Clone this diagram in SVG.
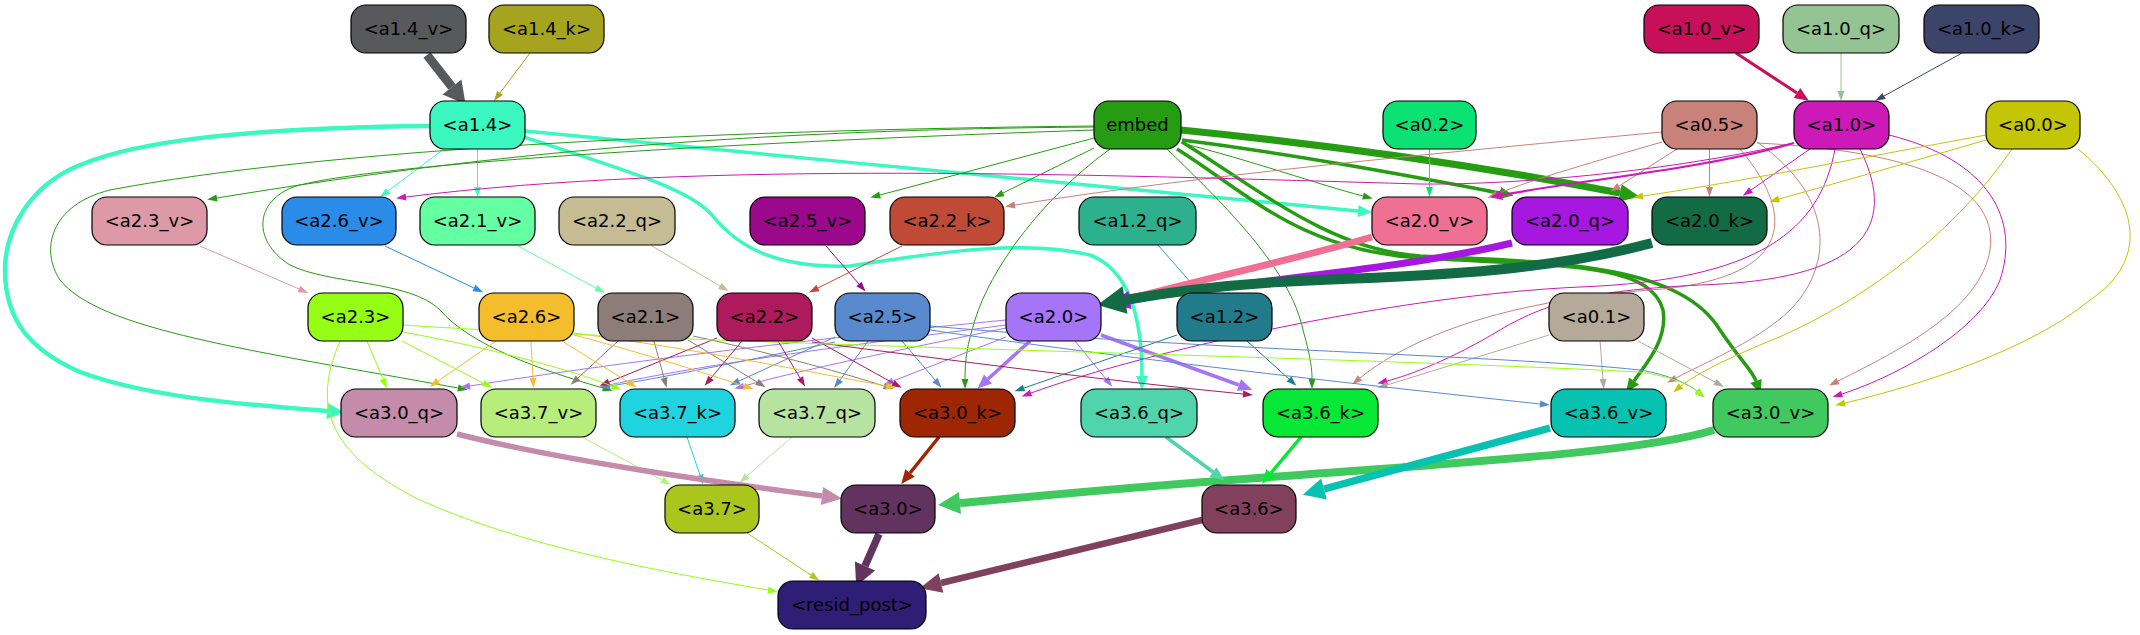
<svg xmlns="http://www.w3.org/2000/svg" width="2140" height="635" viewBox="0 0 2140 635">
<style>
.node rect{stroke:#000;stroke-width:1.2}
.node text{font-family:"DejaVu Sans","Liberation Sans",sans-serif;font-size:18px;text-anchor:middle;fill:#000}
.e{fill:none}
marker{overflow:visible}
</style>
<defs>
<marker id="t-a6a41f" markerUnits="userSpaceOnUse" orient="auto" markerWidth="1" markerHeight="1"><path d="M0,-3.5L10,0L0,3.5z" fill="#a6a41f"/></marker>
<marker id="t-94c493" markerUnits="userSpaceOnUse" orient="auto" markerWidth="1" markerHeight="1"><path d="M0,-3.5L10,0L0,3.5z" fill="#94c493"/></marker>
<marker id="t-3d446a" markerUnits="userSpaceOnUse" orient="auto" markerWidth="1" markerHeight="1"><path d="M0,-3.5L10,0L0,3.5z" fill="#3d446a"/></marker>
<marker id="t-3af8c0" markerUnits="userSpaceOnUse" orient="auto" markerWidth="1" markerHeight="1"><path d="M0,-3.5L10,0L0,3.5z" fill="#3af8c0"/></marker>
<marker id="t-269c12" markerUnits="userSpaceOnUse" orient="auto" markerWidth="1" markerHeight="1"><path d="M0,-3.5L10,0L0,3.5z" fill="#269c12"/></marker>
<marker id="t-0ce274" markerUnits="userSpaceOnUse" orient="auto" markerWidth="1" markerHeight="1"><path d="M0,-3.5L10,0L0,3.5z" fill="#0ce274"/></marker>
<marker id="t-c9827a" markerUnits="userSpaceOnUse" orient="auto" markerWidth="1" markerHeight="1"><path d="M0,-3.5L10,0L0,3.5z" fill="#c9827a"/></marker>
<marker id="t-cc19b7" markerUnits="userSpaceOnUse" orient="auto" markerWidth="1" markerHeight="1"><path d="M0,-3.5L10,0L0,3.5z" fill="#cc19b7"/></marker>
<marker id="t-c4c505" markerUnits="userSpaceOnUse" orient="auto" markerWidth="1" markerHeight="1"><path d="M0,-3.5L10,0L0,3.5z" fill="#c4c505"/></marker>
<marker id="t-b5aa99" markerUnits="userSpaceOnUse" orient="auto" markerWidth="1" markerHeight="1"><path d="M0,-3.5L10,0L0,3.5z" fill="#b5aa99"/></marker>
<marker id="t-dd9aa6" markerUnits="userSpaceOnUse" orient="auto" markerWidth="1" markerHeight="1"><path d="M0,-3.5L10,0L0,3.5z" fill="#dd9aa6"/></marker>
<marker id="t-2a8ce8" markerUnits="userSpaceOnUse" orient="auto" markerWidth="1" markerHeight="1"><path d="M0,-3.5L10,0L0,3.5z" fill="#2a8ce8"/></marker>
<marker id="t-64fea3" markerUnits="userSpaceOnUse" orient="auto" markerWidth="1" markerHeight="1"><path d="M0,-3.5L10,0L0,3.5z" fill="#64fea3"/></marker>
<marker id="t-c6bc93" markerUnits="userSpaceOnUse" orient="auto" markerWidth="1" markerHeight="1"><path d="M0,-3.5L10,0L0,3.5z" fill="#c6bc93"/></marker>
<marker id="t-bf4b37" markerUnits="userSpaceOnUse" orient="auto" markerWidth="1" markerHeight="1"><path d="M0,-3.5L10,0L0,3.5z" fill="#bf4b37"/></marker>
<marker id="t-9b088c" markerUnits="userSpaceOnUse" orient="auto" markerWidth="1" markerHeight="1"><path d="M0,-3.5L10,0L0,3.5z" fill="#9b088c"/></marker>
<marker id="t-2cb08e" markerUnits="userSpaceOnUse" orient="auto" markerWidth="1" markerHeight="1"><path d="M0,-3.5L10,0L0,3.5z" fill="#2cb08e"/></marker>
<marker id="t-a574f7" markerUnits="userSpaceOnUse" orient="auto" markerWidth="1" markerHeight="1"><path d="M0,-3.5L10,0L0,3.5z" fill="#a574f7"/></marker>
<marker id="t-217b8a" markerUnits="userSpaceOnUse" orient="auto" markerWidth="1" markerHeight="1"><path d="M0,-3.5L10,0L0,3.5z" fill="#217b8a"/></marker>
<marker id="t-598acd" markerUnits="userSpaceOnUse" orient="auto" markerWidth="1" markerHeight="1"><path d="M0,-3.5L10,0L0,3.5z" fill="#598acd"/></marker>
<marker id="t-ad1b5c" markerUnits="userSpaceOnUse" orient="auto" markerWidth="1" markerHeight="1"><path d="M0,-3.5L10,0L0,3.5z" fill="#ad1b5c"/></marker>
<marker id="t-8c7d78" markerUnits="userSpaceOnUse" orient="auto" markerWidth="1" markerHeight="1"><path d="M0,-3.5L10,0L0,3.5z" fill="#8c7d78"/></marker>
<marker id="t-f3bd2c" markerUnits="userSpaceOnUse" orient="auto" markerWidth="1" markerHeight="1"><path d="M0,-3.5L10,0L0,3.5z" fill="#f3bd2c"/></marker>
<marker id="t-95fe14" markerUnits="userSpaceOnUse" orient="auto" markerWidth="1" markerHeight="1"><path d="M0,-3.5L10,0L0,3.5z" fill="#95fe14"/></marker>
<marker id="t-b6ed7b" markerUnits="userSpaceOnUse" orient="auto" markerWidth="1" markerHeight="1"><path d="M0,-3.5L10,0L0,3.5z" fill="#b6ed7b"/></marker>
<marker id="t-1fd3df" markerUnits="userSpaceOnUse" orient="auto" markerWidth="1" markerHeight="1"><path d="M0,-3.5L10,0L0,3.5z" fill="#1fd3df"/></marker>
<marker id="t-b7e3a1" markerUnits="userSpaceOnUse" orient="auto" markerWidth="1" markerHeight="1"><path d="M0,-3.5L10,0L0,3.5z" fill="#b7e3a1"/></marker>
<marker id="t-aac61d" markerUnits="userSpaceOnUse" orient="auto" markerWidth="1" markerHeight="1"><path d="M0,-3.5L10,0L0,3.5z" fill="#aac61d"/></marker>
<marker id="m-c80f59" markerUnits="userSpaceOnUse" orient="auto" markerWidth="1" markerHeight="1"><path d="M0,-6L14,0L0,6z" fill="#c80f59"/></marker>
<marker id="m-3af8c0" markerUnits="userSpaceOnUse" orient="auto" markerWidth="1" markerHeight="1"><path d="M0,-6L14,0L0,6z" fill="#3af8c0"/></marker>
<marker id="m-269c12" markerUnits="userSpaceOnUse" orient="auto" markerWidth="1" markerHeight="1"><path d="M0,-6L14,0L0,6z" fill="#269c12"/></marker>
<marker id="m-a574f7" markerUnits="userSpaceOnUse" orient="auto" markerWidth="1" markerHeight="1"><path d="M0,-6L14,0L0,6z" fill="#a574f7"/></marker>
<marker id="m-9f2602" markerUnits="userSpaceOnUse" orient="auto" markerWidth="1" markerHeight="1"><path d="M0,-6L14,0L0,6z" fill="#9f2602"/></marker>
<marker id="m-4fd4ab" markerUnits="userSpaceOnUse" orient="auto" markerWidth="1" markerHeight="1"><path d="M0,-6L14,0L0,6z" fill="#4fd4ab"/></marker>
<marker id="m-06e835" markerUnits="userSpaceOnUse" orient="auto" markerWidth="1" markerHeight="1"><path d="M0,-6L14,0L0,6z" fill="#06e835"/></marker>
<marker id="m-cc19b7" markerUnits="userSpaceOnUse" orient="auto" markerWidth="1" markerHeight="1"><path d="M0,-5L12,0L0,5z" fill="#cc19b7"/></marker>
<marker id="l-3af8c0" markerUnits="userSpaceOnUse" orient="auto" markerWidth="1" markerHeight="1"><path d="M0,-8L18,0L0,8z" fill="#3af8c0"/></marker>
<marker id="l-269c12" markerUnits="userSpaceOnUse" orient="auto" markerWidth="1" markerHeight="1"><path d="M0,-9L20,0L0,9z" fill="#269c12"/></marker>
<marker id="l-f07094" markerUnits="userSpaceOnUse" orient="auto" markerWidth="1" markerHeight="1"><path d="M0,-9L20,0L0,9z" fill="#f07094"/></marker>
<marker id="l-a617df" markerUnits="userSpaceOnUse" orient="auto" markerWidth="1" markerHeight="1"><path d="M0,-9L20,0L0,9z" fill="#a617df"/></marker>
<marker id="l-c48bab" markerUnits="userSpaceOnUse" orient="auto" markerWidth="1" markerHeight="1"><path d="M0,-9L20,0L0,9z" fill="#c48bab"/></marker>
<marker id="x-58595b" markerUnits="userSpaceOnUse" orient="auto" markerWidth="1" markerHeight="1"><path d="M0,-12L22,0L0,12z" fill="#58595b"/></marker>
<marker id="x-40c95e" markerUnits="userSpaceOnUse" orient="auto" markerWidth="1" markerHeight="1"><path d="M0,-11L22,0L0,11z" fill="#40c95e"/></marker>
<marker id="x-07c1b1" markerUnits="userSpaceOnUse" orient="auto" markerWidth="1" markerHeight="1"><path d="M0,-11L22,0L0,11z" fill="#07c1b1"/></marker>
<marker id="x-61335e" markerUnits="userSpaceOnUse" orient="auto" markerWidth="1" markerHeight="1"><path d="M0,-11L22,0L0,11z" fill="#61335e"/></marker>
<marker id="x-81415d" markerUnits="userSpaceOnUse" orient="auto" markerWidth="1" markerHeight="1"><path d="M0,-10L22,0L0,10z" fill="#81415d"/></marker>
<marker id="x-126b45" markerUnits="userSpaceOnUse" orient="auto" markerWidth="1" markerHeight="1"><path d="M0,-14L28,0L0,14z" fill="#126b45"/></marker>
</defs>
<rect width="2140" height="635" fill="#fff"/>
<g id="connectors">
<path class="e" d="M427,55 L452,87" stroke="#58595b" stroke-width="9" marker-end="url(#x-58595b)"/>
<path class="e" d="M530,53 L500,93" stroke="#a6a41f" stroke-width="1" marker-end="url(#t-a6a41f)"/>
<path class="e" d="M1736,53 L1797,93" stroke="#c80f59" stroke-width="3" marker-end="url(#m-c80f59)"/>
<path class="e" d="M1841,53 L1841,91" stroke="#94c493" stroke-width="1" marker-end="url(#t-94c493)"/>
<path class="e" d="M1962,53 L1884,96" stroke="#3d446a" stroke-width="1" marker-end="url(#t-3d446a)"/>
<path class="e" d="M444,149 L388,191" stroke="#3af8c0" stroke-width="1" marker-end="url(#t-3af8c0)"/>
<path class="e" d="M477.5,149 L477.5,187" stroke="#3af8c0" stroke-width="1" marker-end="url(#t-3af8c0)"/>
<path class="e" d="M430,126 C250,128 140,140 80,165 C30,185 5,230 5,270 C5,320 30,350 80,372 C150,398 250,405 327,411" stroke="#3af8c0" stroke-width="4.5" marker-end="url(#l-3af8c0)"/>
<path class="e" d="M525,131 C800,158 1100,186 1358,211" stroke="#3af8c0" stroke-width="3.5" marker-end="url(#m-3af8c0)"/>
<path class="e" d="M524,137 C640,175 690,190 712,215 C740,250 780,268 850,266 C950,250 1030,240 1090,255 C1130,270 1142,320 1142,376" stroke="#3af8c0" stroke-width="3.5" marker-end="url(#m-3af8c0)"/>
<path class="e" d="M1094,127 C700,130 450,160 217,198" stroke="#269c12" stroke-width="1" marker-end="url(#t-269c12)"/>
<path class="e" d="M1094,126 C700,130 320,150 110,190 C50,205 40,250 60,280 C100,330 250,350 458,388" stroke="#269c12" stroke-width="1" marker-end="url(#t-269c12)"/>
<path class="e" d="M1094,130 C800,140 400,160 300,185 C255,197 250,240 290,265 C330,285 410,280 440,310 C470,345 540,370 603,388" stroke="#269c12" stroke-width="1" marker-end="url(#t-269c12)"/>
<path class="e" d="M1094,138 L880,195" stroke="#269c12" stroke-width="1" marker-end="url(#t-269c12)"/>
<path class="e" d="M1094,148 L1003,193" stroke="#269c12" stroke-width="1" marker-end="url(#t-269c12)"/>
<path class="e" d="M1110,149 C1040,200 990,270 975,320 C967,345 965,360 965,379" stroke="#269c12" stroke-width="1" marker-end="url(#t-269c12)"/>
<path class="e" d="M1167,149 C1230,210 1290,270 1303,330 C1310,355 1312,368 1312,379" stroke="#269c12" stroke-width="1" marker-end="url(#t-269c12)"/>
<path class="e" d="M1181,143 C1250,160 1320,185 1363,196" stroke="#269c12" stroke-width="1" marker-end="url(#t-269c12)"/>
<path class="e" d="M1182,140 C1300,155 1420,178 1500,193" stroke="#269c12" stroke-width="3.5" marker-end="url(#m-269c12)"/>
<path class="e" d="M1177,149 C1250,195 1300,250 1420,258 C1560,266 1650,262 1663,310 C1668,340 1645,365 1634,381" stroke="#269c12" stroke-width="3.5" marker-end="url(#m-269c12)"/>
<path class="e" d="M1182,142 C1260,190 1330,250 1420,256 C1560,262 1680,265 1720,330 C1740,360 1752,370 1756,381" stroke="#269c12" stroke-width="3.5" marker-end="url(#m-269c12)"/>
<path class="e" d="M1181,130 C1300,142 1450,160 1620,193" stroke="#269c12" stroke-width="7" marker-end="url(#l-269c12)"/>
<path class="e" d="M1429.5,149 L1429.5,187" stroke="#0ce274" stroke-width="1" marker-end="url(#t-0ce274)"/>
<path class="e" d="M1662,132 C1450,152 1200,175 1015,205" stroke="#c9827a" stroke-width="1" marker-end="url(#t-c9827a)"/>
<path class="e" d="M1662,142 C1600,160 1530,180 1497,194" stroke="#c9827a" stroke-width="1" marker-end="url(#t-c9827a)"/>
<path class="e" d="M1677,149 L1619,186" stroke="#c9827a" stroke-width="1" marker-end="url(#t-c9827a)"/>
<path class="e" d="M1709.5,149 L1709.5,187" stroke="#c9827a" stroke-width="1" marker-end="url(#t-c9827a)"/>
<path class="e" d="M1740,149 C1800,220 1790,280 1650,290 C1520,300 1420,330 1360,378" stroke="#c9827a" stroke-width="1" marker-end="url(#t-c9827a)"/>
<path class="e" d="M1757,142 C1840,200 1830,270 1790,310 C1760,340 1700,365 1676,378" stroke="#c9827a" stroke-width="1" marker-end="url(#t-c9827a)"/>
<path class="e" d="M1757,143 C1900,150 2000,180 1990,250 C1980,310 1900,350 1838,381" stroke="#c9827a" stroke-width="1" marker-end="url(#t-c9827a)"/>
<path class="e" d="M1794,143 C1650,175 1500,185 1420,184 C1100,175 700,160 406,197" stroke="#cc19b7" stroke-width="1" marker-end="url(#t-cc19b7)"/>
<path class="e" d="M1794,143 C1700,170 1580,180 1502,195" stroke="#cc19b7" stroke-width="2.2" marker-end="url(#m-cc19b7)"/>
<path class="e" d="M1810,149 L1751,190" stroke="#cc19b7" stroke-width="1" marker-end="url(#t-cc19b7)"/>
<path class="e" d="M1835,149 C1820,230 1760,280 1580,287 C1400,295 1150,350 1031,393" stroke="#cc19b7" stroke-width="1" marker-end="url(#t-cc19b7)"/>
<path class="e" d="M1860,149 C1900,230 1860,280 1700,285 C1600,290 1550,300 1500,330 C1450,360 1410,375 1387,381" stroke="#cc19b7" stroke-width="1" marker-end="url(#t-cc19b7)"/>
<path class="e" d="M1889,135 C1990,160 2020,220 2000,280 C1980,330 1900,375 1842,394" stroke="#cc19b7" stroke-width="1" marker-end="url(#t-cc19b7)"/>
<path class="e" d="M1986,135 C1850,160 1720,185 1643,196" stroke="#c4c505" stroke-width="1" marker-end="url(#t-c4c505)"/>
<path class="e" d="M1986,140 C1900,165 1830,185 1779,199" stroke="#c4c505" stroke-width="1" marker-end="url(#t-c4c505)"/>
<path class="e" d="M2012,149 C1950,240 1850,310 1760,345 C1720,362 1695,375 1681,386" stroke="#c4c505" stroke-width="1" marker-end="url(#t-c4c505)"/>
<path class="e" d="M2078,149 C2140,200 2150,260 2090,300 C2030,350 1920,385 1845,403" stroke="#c4c505" stroke-width="1" marker-end="url(#t-c4c505)"/>
<path class="e" d="M1549,335 L1387,385" stroke="#b5aa99" stroke-width="1" marker-end="url(#t-b5aa99)"/>
<path class="e" d="M1600,341 L1603,379" stroke="#b5aa99" stroke-width="1" marker-end="url(#t-b5aa99)"/>
<path class="e" d="M1638,341 L1715,382" stroke="#b5aa99" stroke-width="1" marker-end="url(#t-b5aa99)"/>
<path class="e" d="M200,246 L299,289" stroke="#dd9aa6" stroke-width="1" marker-end="url(#t-dd9aa6)"/>
<path class="e" d="M385,246 L474,288" stroke="#2a8ce8" stroke-width="1" marker-end="url(#t-2a8ce8)"/>
<path class="e" d="M518,246 L596,288" stroke="#64fea3" stroke-width="1" marker-end="url(#t-64fea3)"/>
<path class="e" d="M652,246 L720,286" stroke="#c6bc93" stroke-width="1" marker-end="url(#t-c6bc93)"/>
<path class="e" d="M902,246 L818,288" stroke="#bf4b37" stroke-width="1" marker-end="url(#t-bf4b37)"/>
<path class="e" d="M826,246 L859,284" stroke="#9b088c" stroke-width="1" marker-end="url(#t-9b088c)"/>
<path class="e" d="M1158,245 L1192,284" stroke="#2cb08e" stroke-width="1" marker-end="url(#t-2cb08e)"/>
<path class="e" d="M1372,237 C1300,258 1200,280 1125,300" stroke="#f07094" stroke-width="7" marker-end="url(#l-f07094)"/>
<path class="e" d="M1512,243 C1400,270 1250,280 1130,300" stroke="#a617df" stroke-width="7" marker-end="url(#l-a617df)"/>
<path class="e" d="M1652,243 C1550,270 1450,275 1320,280 C1240,283 1180,290 1125,300" stroke="#126b45" stroke-width="10" marker-end="url(#x-126b45)"/>
<path class="e" d="M1030,341 L988,379" stroke="#a574f7" stroke-width="3.5" marker-end="url(#m-a574f7)"/>
<path class="e" d="M1101,335 L1239,385" stroke="#a574f7" stroke-width="3.5" marker-end="url(#m-a574f7)"/>
<path class="e" d="M1075,341 L1106,379" stroke="#a574f7" stroke-width="1" marker-end="url(#t-a574f7)"/>
<path class="e" d="M1006,337 L893,381" stroke="#a574f7" stroke-width="1" marker-end="url(#t-a574f7)"/>
<path class="e" d="M1006,328 C900,350 800,370 744,386" stroke="#a574f7" stroke-width="1" marker-end="url(#t-a574f7)"/>
<path class="e" d="M1006,325 C850,345 700,365 609,385" stroke="#a574f7" stroke-width="1" marker-end="url(#t-a574f7)"/>
<path class="e" d="M1006,320 C800,340 600,365 470,386" stroke="#a574f7" stroke-width="1" marker-end="url(#t-a574f7)"/>
<path class="e" d="M1177,335 L1024,388" stroke="#217b8a" stroke-width="1" marker-end="url(#t-217b8a)"/>
<path class="e" d="M1247,341 L1289,379" stroke="#217b8a" stroke-width="1" marker-end="url(#t-217b8a)"/>
<path class="e" d="M902,341 L935,380" stroke="#598acd" stroke-width="1" marker-end="url(#t-598acd)"/>
<path class="e" d="M868,341 L840,380" stroke="#598acd" stroke-width="1" marker-end="url(#t-598acd)"/>
<path class="e" d="M835,337 L739,381" stroke="#598acd" stroke-width="1" marker-end="url(#t-598acd)"/>
<path class="e" d="M835,342 C750,360 660,378 610,386" stroke="#598acd" stroke-width="1" marker-end="url(#t-598acd)"/>
<path class="e" d="M930,330 C1100,355 1300,378 1540,404" stroke="#598acd" stroke-width="1" marker-end="url(#t-598acd)"/>
<path class="e" d="M930,326 C1200,350 1500,355 1640,370 C1670,375 1690,385 1697,391" stroke="#598acd" stroke-width="1" marker-end="url(#t-598acd)"/>
<path class="e" d="M717,338 L609,382" stroke="#ad1b5c" stroke-width="1" marker-end="url(#t-ad1b5c)"/>
<path class="e" d="M742,341 L711,378" stroke="#ad1b5c" stroke-width="1" marker-end="url(#t-ad1b5c)"/>
<path class="e" d="M778,341 L800,378" stroke="#ad1b5c" stroke-width="1" marker-end="url(#t-ad1b5c)"/>
<path class="e" d="M812,338 L893,383" stroke="#ad1b5c" stroke-width="1" marker-end="url(#t-ad1b5c)"/>
<path class="e" d="M812,342 C950,360 1100,380 1243,394" stroke="#ad1b5c" stroke-width="1" marker-end="url(#t-ad1b5c)"/>
<path class="e" d="M618,341 L578,378" stroke="#8c7d78" stroke-width="1" marker-end="url(#t-8c7d78)"/>
<path class="e" d="M654,341 L664,378" stroke="#8c7d78" stroke-width="1" marker-end="url(#t-8c7d78)"/>
<path class="e" d="M688,340 L757,382" stroke="#8c7d78" stroke-width="1" marker-end="url(#t-8c7d78)"/>
<path class="e" d="M693,336 C780,355 850,375 884,386" stroke="#8c7d78" stroke-width="1" marker-end="url(#t-8c7d78)"/>
<path class="e" d="M496,341 L438,381" stroke="#f3bd2c" stroke-width="1" marker-end="url(#t-f3bd2c)"/>
<path class="e" d="M531,341 L533,378" stroke="#f3bd2c" stroke-width="1" marker-end="url(#t-f3bd2c)"/>
<path class="e" d="M562,341 L628,382" stroke="#f3bd2c" stroke-width="1" marker-end="url(#t-f3bd2c)"/>
<path class="e" d="M574,335 C650,355 710,375 744,386" stroke="#f3bd2c" stroke-width="1" marker-end="url(#t-f3bd2c)"/>
<path class="e" d="M574,333 C700,350 800,370 886,386" stroke="#f3bd2c" stroke-width="1" marker-end="url(#t-f3bd2c)"/>
<path class="e" d="M367,341 L383,379" stroke="#95fe14" stroke-width="1" marker-end="url(#t-95fe14)"/>
<path class="e" d="M402,341 L483,383" stroke="#95fe14" stroke-width="1" marker-end="url(#t-95fe14)"/>
<path class="e" d="M403,332 C500,350 570,370 612,386" stroke="#95fe14" stroke-width="1" marker-end="url(#t-95fe14)"/>
<path class="e" d="M403,325 C700,345 1300,355 1640,372 C1670,376 1690,385 1697,391" stroke="#95fe14" stroke-width="1" marker-end="url(#t-95fe14)"/>
<path class="e" d="M340,341 C315,400 320,450 420,500 C520,545 650,570 768,590" stroke="#95fe14" stroke-width="1" marker-end="url(#t-95fe14)"/>
<path class="e" d="M582,437 L662,480" stroke="#b6ed7b" stroke-width="1" marker-end="url(#t-b6ed7b)"/>
<path class="e" d="M687,437 L700,475" stroke="#1fd3df" stroke-width="1" marker-end="url(#t-1fd3df)"/>
<path class="e" d="M792,437 L747,476" stroke="#b7e3a1" stroke-width="1" marker-end="url(#t-b7e3a1)"/>
<path class="e" d="M457,434 C560,460 700,480 822,496" stroke="#c48bab" stroke-width="5.5" marker-end="url(#l-c48bab)"/>
<path class="e" d="M939,437 L910,473" stroke="#9f2602" stroke-width="3.5" marker-end="url(#m-9f2602)"/>
<path class="e" d="M1714,430 C1650,450 1500,460 1300,475 C1150,485 1050,495 960,503" stroke="#40c95e" stroke-width="8" marker-end="url(#x-40c95e)"/>
<path class="e" d="M1166,437 L1213,472" stroke="#4fd4ab" stroke-width="3.5" marker-end="url(#m-4fd4ab)"/>
<path class="e" d="M1301,437 L1271,473" stroke="#06e835" stroke-width="3.5" marker-end="url(#m-06e835)"/>
<path class="e" d="M1550,428 L1324,489" stroke="#07c1b1" stroke-width="7.5" marker-end="url(#x-07c1b1)"/>
<path class="e" d="M747,533 L811,575" stroke="#aac61d" stroke-width="1" marker-end="url(#t-aac61d)"/>
<path class="e" d="M879,534 L865,566" stroke="#61335e" stroke-width="7.5" marker-end="url(#x-61335e)"/>
<path class="e" d="M1202,520 L941,583" stroke="#81415d" stroke-width="6.5" marker-end="url(#x-81415d)"/>
</g>
<g id="a1_4_v" class="node"><rect x="351" y="5" width="115" height="48" rx="15" fill="#58595b"/><text x="408.5" y="35">&lt;a1.4_v&gt;</text></g>
<g id="a1_4_k" class="node"><rect x="489" y="5" width="115" height="48" rx="15" fill="#a6a41f"/><text x="546.5" y="35">&lt;a1.4_k&gt;</text></g>
<g id="a1_0_v" class="node"><rect x="1644" y="5" width="115" height="48" rx="15" fill="#c80f59"/><text x="1701.5" y="35">&lt;a1.0_v&gt;</text></g>
<g id="a1_0_q" class="node"><rect x="1783" y="5" width="116" height="48" rx="15" fill="#94c493"/><text x="1841" y="35">&lt;a1.0_q&gt;</text></g>
<g id="a1_0_k" class="node"><rect x="1924" y="5" width="115" height="48" rx="15" fill="#3d446a"/><text x="1981.5" y="35">&lt;a1.0_k&gt;</text></g>
<g id="a1_4" class="node"><rect x="430" y="101" width="95" height="48" rx="15" fill="#3af8c0"/><text x="477.5" y="131">&lt;a1.4&gt;</text></g>
<g id="embed" class="node"><rect x="1094" y="101" width="87" height="48" rx="15" fill="#269c12"/><text x="1137.5" y="131">embed</text></g>
<g id="a0_2" class="node"><rect x="1383" y="101" width="93" height="48" rx="15" fill="#0ce274"/><text x="1429.5" y="131">&lt;a0.2&gt;</text></g>
<g id="a0_5" class="node"><rect x="1662" y="101" width="95" height="48" rx="15" fill="#c9827a"/><text x="1709.5" y="131">&lt;a0.5&gt;</text></g>
<g id="a1_0" class="node"><rect x="1794" y="101" width="95" height="48" rx="15" fill="#cc19b7"/><text x="1841.5" y="131">&lt;a1.0&gt;</text></g>
<g id="a0_0" class="node"><rect x="1986" y="101" width="94" height="48" rx="15" fill="#c4c505"/><text x="2033" y="131">&lt;a0.0&gt;</text></g>
<g id="a2_3_v" class="node"><rect x="92" y="197" width="115" height="48" rx="15" fill="#dd9aa6"/><text x="149.5" y="227">&lt;a2.3_v&gt;</text></g>
<g id="a2_6_v" class="node"><rect x="282" y="197" width="114" height="48" rx="15" fill="#2a8ce8"/><text x="339" y="227">&lt;a2.6_v&gt;</text></g>
<g id="a2_1_v" class="node"><rect x="420" y="197" width="115" height="48" rx="15" fill="#64fea3"/><text x="477.5" y="227">&lt;a2.1_v&gt;</text></g>
<g id="a2_2_q" class="node"><rect x="559" y="197" width="116" height="48" rx="15" fill="#c6bc93"/><text x="617" y="227">&lt;a2.2_q&gt;</text></g>
<g id="a2_5_v" class="node"><rect x="750" y="197" width="115" height="48" rx="15" fill="#9b088c"/><text x="807.5" y="227">&lt;a2.5_v&gt;</text></g>
<g id="a2_2_k" class="node"><rect x="890" y="197" width="114" height="48" rx="15" fill="#bf4b37"/><text x="947" y="227">&lt;a2.2_k&gt;</text></g>
<g id="a1_2_q" class="node"><rect x="1079" y="197" width="117" height="48" rx="15" fill="#2cb08e"/><text x="1137.5" y="227">&lt;a1.2_q&gt;</text></g>
<g id="a2_0_v" class="node"><rect x="1372" y="197" width="115" height="48" rx="15" fill="#f07094"/><text x="1429.5" y="227">&lt;a2.0_v&gt;</text></g>
<g id="a2_0_q" class="node"><rect x="1512" y="197" width="116" height="48" rx="15" fill="#a617df"/><text x="1570" y="227">&lt;a2.0_q&gt;</text></g>
<g id="a2_0_k" class="node"><rect x="1652" y="197" width="115" height="48" rx="15" fill="#126b45"/><text x="1709.5" y="227">&lt;a2.0_k&gt;</text></g>
<g id="a2_3" class="node"><rect x="308" y="293" width="95" height="48" rx="15" fill="#95fe14"/><text x="355.5" y="323">&lt;a2.3&gt;</text></g>
<g id="a2_6" class="node"><rect x="479" y="293" width="95" height="48" rx="15" fill="#f3bd2c"/><text x="526.5" y="323">&lt;a2.6&gt;</text></g>
<g id="a2_1" class="node"><rect x="598" y="293" width="95" height="48" rx="15" fill="#8c7d78"/><text x="645.5" y="323">&lt;a2.1&gt;</text></g>
<g id="a2_2" class="node"><rect x="717" y="293" width="95" height="48" rx="15" fill="#ad1b5c"/><text x="764.5" y="323">&lt;a2.2&gt;</text></g>
<g id="a2_5" class="node"><rect x="835" y="293" width="95" height="48" rx="15" fill="#598acd"/><text x="882.5" y="323">&lt;a2.5&gt;</text></g>
<g id="a2_0" class="node"><rect x="1006" y="293" width="95" height="48" rx="15" fill="#a574f7"/><text x="1053.5" y="323">&lt;a2.0&gt;</text></g>
<g id="a1_2" class="node"><rect x="1177" y="293" width="95" height="48" rx="15" fill="#217b8a"/><text x="1224.5" y="323">&lt;a1.2&gt;</text></g>
<g id="a0_1" class="node"><rect x="1549" y="293" width="95" height="48" rx="15" fill="#b5aa99"/><text x="1596.5" y="323">&lt;a0.1&gt;</text></g>
<g id="a3_0_q" class="node"><rect x="341" y="389" width="116" height="48" rx="15" fill="#c48bab"/><text x="399" y="419">&lt;a3.0_q&gt;</text></g>
<g id="a3_7_v" class="node"><rect x="481" y="389" width="115" height="48" rx="15" fill="#b6ed7b"/><text x="538.5" y="419">&lt;a3.7_v&gt;</text></g>
<g id="a3_7_k" class="node"><rect x="620" y="389" width="115" height="48" rx="15" fill="#1fd3df"/><text x="677.5" y="419">&lt;a3.7_k&gt;</text></g>
<g id="a3_7_q" class="node"><rect x="759" y="389" width="116" height="48" rx="15" fill="#b7e3a1"/><text x="817" y="419">&lt;a3.7_q&gt;</text></g>
<g id="a3_0_k" class="node"><rect x="900" y="389" width="115" height="48" rx="15" fill="#9f2602"/><text x="957.5" y="419">&lt;a3.0_k&gt;</text></g>
<g id="a3_6_q" class="node"><rect x="1081" y="389" width="116" height="48" rx="15" fill="#4fd4ab"/><text x="1139" y="419">&lt;a3.6_q&gt;</text></g>
<g id="a3_6_k" class="node"><rect x="1263" y="389" width="115" height="48" rx="15" fill="#06e835"/><text x="1320.5" y="419">&lt;a3.6_k&gt;</text></g>
<g id="a3_6_v" class="node"><rect x="1551" y="389" width="115" height="48" rx="15" fill="#07c1b1"/><text x="1608.5" y="419">&lt;a3.6_v&gt;</text></g>
<g id="a3_0_v" class="node"><rect x="1713" y="389" width="115" height="48" rx="15" fill="#40c95e"/><text x="1770.5" y="419">&lt;a3.0_v&gt;</text></g>
<g id="a3_7" class="node"><rect x="665" y="485" width="94" height="48" rx="15" fill="#aac61d"/><text x="712" y="515">&lt;a3.7&gt;</text></g>
<g id="a3_0" class="node"><rect x="841" y="485" width="94" height="48" rx="15" fill="#61335e"/><text x="888" y="515">&lt;a3.0&gt;</text></g>
<g id="a3_6" class="node"><rect x="1202" y="485" width="94" height="48" rx="15" fill="#81415d"/><text x="1249" y="515">&lt;a3.6&gt;</text></g>
<g id="resid_post" class="node"><rect x="778" y="581" width="148" height="48" rx="15" fill="#2f1e76"/><text x="852" y="611">&lt;resid_post&gt;</text></g>
</svg>
